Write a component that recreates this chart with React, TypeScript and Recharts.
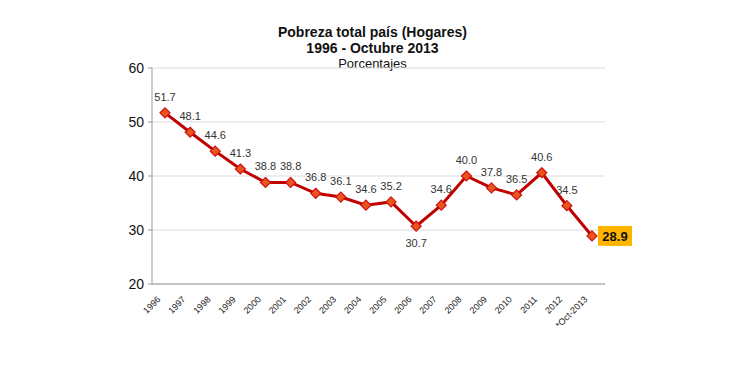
import { LineChart, Line, XAxis, YAxis, CartesianGrid, LabelList } from 'recharts';

const years = [
  '1996', '1997', '1998', '1999', '2000', '2001', '2002', '2003', '2004',
  '2005', '2006', '2007', '2008', '2009', '2010', '2011', '2012', '*Oct-2013',
];
const poverty = [
  51.7, 48.1, 44.6, 41.3, 38.8, 38.8, 36.8, 36.1, 34.6,
  35.2, 30.7, 34.6, 40.0, 37.8, 36.5, 40.6, 34.5, 28.9,
];
const yTicks = [20, 30, 40, 50, 60];

const chartData = years.map((year, i) => ({ year, value: poverty[i] }));

const FONT = '"Liberation Sans", Arial, sans-serif';

const Diamond = (props: any) => {
  const { cx, cy } = props;
  if (cx == null || cy == null) return null;
  const r = 5;
  return (
    <path
      d={`M${cx},${cy - r} L${cx + r},${cy} L${cx},${cy + r} L${cx - r},${cy} Z`}
      fill='#E8561E'
      stroke='#D01010'
      strokeWidth={1.2}
    />
  );
};

const XTick = (props: any) => {
  const { x, y, payload } = props;
  return (
    <text
      x={x - 4}
      y={y + 8}
      transform={`rotate(-45, ${x - 4}, ${y + 8})`}
      textAnchor='end'
      fontSize={9}
      fontFamily={FONT}
      fill='#222'
    >
      {payload.value}
    </text>
  );
};

const ValueLabel = (props: any) => {
  const { x, y, value, index } = props;
  const last = index === years.length - 1;
  if (last) {
    return (
      <g>
        <rect x={x + 6} y={y - 10} width={34} height={20} fill='#FFB400' />
        <text
          x={x + 23}
          y={y + 5}
          textAnchor='middle'
          fontSize={13}
          fontWeight='bold'
          fontFamily={FONT}
          fill='#111'
        >
          {Number(value).toFixed(1)}
        </text>
      </g>
    );
  }
  const below = index === 10;
  return (
    <text
      x={x}
      y={below ? y + 21 : y - 12}
      textAnchor='middle'
      fontSize={11}
      fontFamily={FONT}
      fill='#333'
    >
      {Number(value).toFixed(1)}
    </text>
  );
};

export default function App() {
  return (
    <div
      style={{
        position: 'absolute',
        top: 0,
        left: 0,
        width: 750,
        height: 368,
        background: '#fff',
        fontFamily: FONT,
      }}
    >
      <div
        style={{
          position: 'absolute',
          top: 24,
          left: 0,
          width: 745,
          textAlign: 'center',
          color: '#111',
          lineHeight: '16px',
        }}
      >
        <div style={{ fontSize: 14, fontWeight: 'bold' }}>Pobreza total país (Hogares)</div>
        <div style={{ fontSize: 14, fontWeight: 'bold' }}>1996 - Octubre 2013</div>
        <div style={{ fontSize: 13 }}>Porcentajes</div>
      </div>
      <LineChart
        width={750}
        height={368}
        data={chartData}
        margin={{ top: 68, right: 145, left: 0, bottom: 34 }}
      >
        <CartesianGrid vertical={false} stroke='#dcdcdc' />
        <XAxis
          dataKey='year'
          height={50}
          interval={0}
          padding={{ left: 13, right: 13 }}
          tick={<XTick />}
          tickLine={false}
          axisLine={{ stroke: '#999' }}
        />
        <YAxis
          width={152}
          domain={[20, 60]}
          ticks={yTicks}
          tick={{ fontSize: 14, fill: '#111', fontFamily: FONT }}
          tickLine={{ stroke: '#999' }}
          tickSize={4}
          tickMargin={4}
          axisLine={{ stroke: '#999' }}
        />
        <Line
          type='linear'
          dataKey='value'
          stroke='#C00000'
          strokeWidth={3}
          dot={<Diamond />}
          isAnimationActive={false}
        >
          <LabelList dataKey='value' content={<ValueLabel />} />
        </Line>
      </LineChart>
    </div>
  );
}
